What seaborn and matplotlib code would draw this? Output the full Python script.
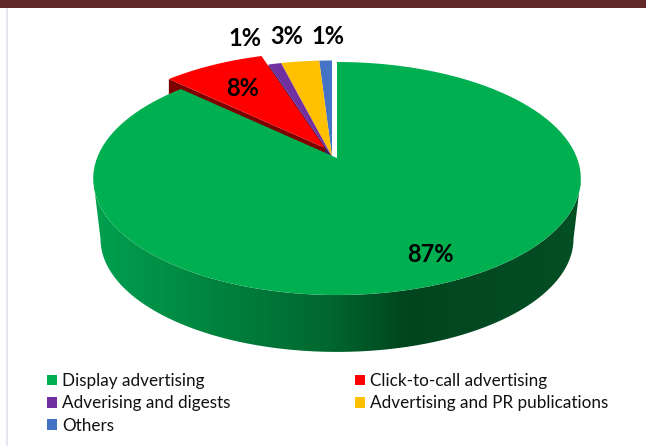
import numpy as np
import matplotlib
matplotlib.use("Agg")
import matplotlib.pyplot as plt
import seaborn as sns
from matplotlib.colors import LinearSegmentedColormap
from matplotlib.patches import Patch, Polygon

categories = ["Display advertising", "Click-to-call advertising", "Adverising and digests",
              "Advertising and PR publications", "Others"]
shares = [87, 8, 1, 3, 1]
slice_colors = ["#00AF50", "#FF0000", "#7030A0", "#FFC000", "#4472C4"]
edge_colors = ["#00672F", "#7D0000", "#3A1A58", "#8F6C00", "#24407A"]

sns.set_theme(style="white")
plt.rcParams["font.family"] = ["Lato", "DejaVu Sans"]
palette = sns.color_palette(slice_colors)

# Projection of the tilted disc onto the page, in pixels
CX, CY, RX, RY, PERSP = 337.0, 158.0, 240.0, 112.9, 0.176
BASE_CY, BASE_SCALE = 219.0, 0.97
# In-page displacement of each slice and how far its cut face drops
slice_shift = [(0, 0), (-12, -10), (-5, -1.5), (-5, -1.5), (-5, -1.5)]
face_drop = [0, 60, 6, 0, 0]
label_xy = [(430, 255), (243, 88), (245, 38), (287, 36), (328, 36)]


def project(theta, cy=CY, scale=1.0):
    u, v = np.sin(theta), np.cos(theta)
    den = 1 + PERSP * v
    return CX + scale * RX * u / den, cy - scale * RY * v / den


fig = plt.figure(figsize=(6.46, 4.46), dpi=100, facecolor="white")
ax = fig.add_axes([0, 0, 1, 1])

# Rim of the disc, shaded left to right
front = np.linspace(np.pi / 2 + np.arcsin(PERSP), 3 * np.pi / 2 - np.arcsin(PERSP), 200)
top_x, top_y = project(front)
low_x, low_y = project(front, BASE_CY, BASE_SCALE)
rim = Polygon(np.r_[np.c_[top_x, top_y], np.c_[low_x, low_y][::-1]], closed=True,
              transform=ax.transData, fc="none", ec="none")
ax.add_patch(rim)
rim_cmap = LinearSegmentedColormap.from_list(
    "rim", [(0, "#00A04F"), (0.48, "#00672F"), (0.64, "#00451E"), (1, "#054F25")])
shade = ax.imshow(np.linspace(0, 1, 256)[None, :], cmap=rim_cmap, aspect="auto",
                  extent=(94, 582, 360, 170), zorder=1)
shade.set_clip_path(rim)

# Slices run clockwise from twelve o'clock
edges = np.r_[0, np.cumsum(shares)] / sum(shares) * 2 * np.pi
order = [4, 3, 2, 1, 0]
for z, i in enumerate(order):
    a0, a1 = edges[i], edges[i + 1]
    t = np.linspace(a0, a1, 120)
    x, y = project(t)
    dx, dy = slice_shift[i]
    xs = np.r_[CX, x] + dx
    ys = np.r_[CY, y] + dy
    if face_drop[i]:
        # The leading cut edge faces the viewer, so its wall is the visible one
        ex, ey = project(a0)
        face = [(CX + dx, CY + dy), (ex + dx, ey + dy),
                (ex + dx, ey + dy + face_drop[i]), (CX + dx, CY + dy + face_drop[i])]
        ax.add_patch(Polygon(face, closed=True, fc=edge_colors[i], ec="none", zorder=2 + z))
    ax.add_patch(Polygon(np.c_[xs, ys], closed=True, fc=palette[i], ec="none",
                         zorder=3 + z))

for value, (lx, ly) in zip(shares, label_xy):
    ax.text(lx, ly, f"{value}%", ha="center", va="center", fontsize=17,
            fontweight="bold", color="black", zorder=20)

ax.set_xlim(0, 646)
ax.set_ylim(446, 0)
ax.axis("off")

# Page furniture: dark band along the top and a pale rule on the left
fig.add_artist(plt.Rectangle((0, 1 - 8 / 446), 1, 8 / 446, transform=fig.transFigure,
                             fc="#602828", ec="none"))
fig.add_artist(plt.Rectangle((6 / 646, 0), 2 / 646, 1 - 8 / 446, transform=fig.transFigure,
                             fc="#E4E7EF", ec="none"))

handles = [Patch(fc=palette[i], ec="none") for i in [0, 2, 4, 1, 3]]
labels = [categories[i] for i in [0, 2, 4, 1, 3]]
fig.legend(handles, labels, ncol=2, loc="upper left", bbox_to_anchor=(47 / 646, 1 - 373 / 446),
           bbox_transform=fig.transFigure, frameon=False, fontsize=12.3, handlelength=0.59,
           handleheight=0.59, handletextpad=0.3, labelspacing=0.37, columnspacing=7.3,
           borderpad=0, borderaxespad=0, labelcolor="#111111")

fig.savefig("out.png", dpi=100)
